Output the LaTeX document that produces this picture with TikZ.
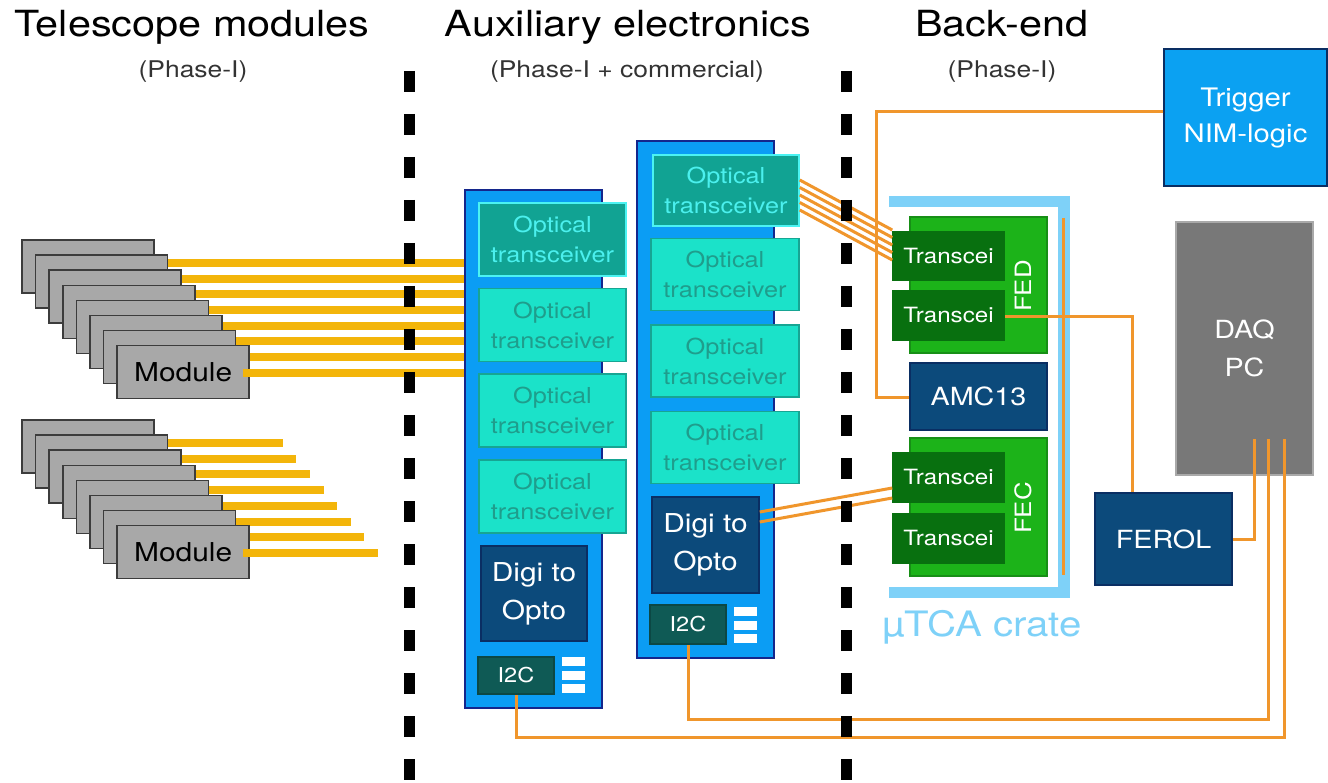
\documentclass[tikz,border=0pt]{standalone}
\usepackage{fontspec}
\setmainfont[FakeStretch=1.15]{TeX Gyre Heros}
\usetikzlibrary{calc}

\definecolor{modgray}{HTML}{A8A8A8}
\definecolor{modedge}{HTML}{3C3C3C}
\definecolor{fibrecol}{HTML}{F3B50A}
\definecolor{boardblue}{HTML}{0B9DF4}
\definecolor{boardedge}{HTML}{14268C}
\definecolor{trxfill}{HTML}{1BE2C9}
\definecolor{trxedge}{HTML}{17A593}
\definecolor{trxtext}{HTML}{1F9D8C}
\definecolor{hlfill}{HTML}{11A393}
\definecolor{hledge}{HTML}{4BF3F2}
\definecolor{hltext}{HTML}{4BF0EE}
\definecolor{navyfill}{HTML}{0C4A7B}
\definecolor{navyedge}{HTML}{0A2E63}
\definecolor{i2cfill}{HTML}{0F5A55}
\definecolor{cardgreen}{HTML}{1CB319}
\definecolor{cardedge}{HTML}{178F16}
\definecolor{trgreen}{HTML}{08700F}
\definecolor{cratecol}{HTML}{7ED1F8}
\definecolor{wirecol}{HTML}{F0962C}
\definecolor{daqgray}{HTML}{787878}
\definecolor{daqedge}{HTML}{A9A9A9}
\definecolor{trigblue}{HTML}{0BA1F2}

\begin{document}
\begin{tikzpicture}[x=1pt,y=-1pt,
  box/.style={draw, inner sep=0pt, align=center, line width=1.5pt},
  title/.style={font=\fontsize{36}{40}\selectfont, anchor=base},
  subtitle/.style={font=\fontsize{23}{26}\selectfont, anchor=base, text=black!80},
  module/.style={box, fill=modgray, draw=modedge, minimum width=132pt, minimum height=53pt},
  modtext/.style={font=\fontsize{26}{28}\selectfont, text=black},
  fibre/.style={line width=8pt, draw=fibrecol},
  board/.style={box, fill=boardblue, draw=boardedge, line width=2pt},
  trx/.style={box, fill=trxfill, draw=trxedge, text=trxtext,
    minimum height=73pt, font=\fontsize{22}{30}\selectfont},
  trxhl/.style={trx, fill=hlfill, draw=hledge, text=hltext},
  digi/.style={box, fill=navyfill, draw=navyedge, text=white,
    font=\fontsize{26}{38}\selectfont},
  i2c/.style={box, fill=i2cfill, draw=i2cfill!80!black, text=white,
    minimum width=76pt, font=\fontsize{20.5}{22}\selectfont},
  bar/.style={fill=white, inner sep=0pt, minimum width=23pt, minimum height=9pt},
  card/.style={box, fill=cardgreen, draw=cardedge, minimum width=137pt},
  cardlabel/.style={rotate=90, text=white, font=\fontsize{22.5}{24}\selectfont},
  tcvr/.style={box, fill=trgreen, draw=trgreen, text=white,
    minimum width=111pt, minimum height=48pt, font=\fontsize{21}{24}\selectfont},
  navybox/.style={box, fill=navyfill, draw=navyedge, text=white,
    font=\fontsize{25}{38}\selectfont},
  wire/.style={draw=wirecol, line width=3pt},
  thinwire/.style={draw=wirecol, line width=3pt},
  divider/.style={draw=black, line width=10.5pt, dash pattern=on 21pt off 22pt}]

\useasboundingbox[fill=white] (0,0) rectangle (1328,783);

% ---------- section headings ----------
\node[title] (h1) at (192,37) {Telescope modules};
\node[subtitle] (s1) at (193,78) {(Phase-I)};
\node[title] (h2) at (628,37) {Auxiliary electronics};
\node[subtitle] (s2) at (627,78) {(Phase-I + commercial)};
\node[title] (h3) at (1002,37) {Back-end};
\node[subtitle] (s3) at (1002,78) {(Phase-I)};

% ---------- auxiliary boards ----------
\node[board, minimum width=137pt, minimum height=518pt] (boardA) at (533.5,449) {};
\node[trxhl, minimum width=147pt] (trxA1) at (552.5,239.5) {Optical\\transceiver};
\node[trx,   minimum width=147pt] (trxA2) at (552.5,325)   {Optical\\transceiver};
\node[trx,   minimum width=147pt] (trxA3) at (552.5,410.5) {Optical\\transceiver};
\node[trx,   minimum width=147pt] (trxA4) at (552.5,496.5) {Optical\\transceiver};
\node[digi, minimum width=106pt, minimum height=95pt] (digiA) at (534,593.5) {Digi to\\Opto};
\node[i2c, minimum height=37pt] (i2cA) at (516,675.5) {I2C};
\node[bar] (barA1) at (573.5,661.5) {};
\node[bar] (barA2) at (573.5,675) {};
\node[bar] (barA3) at (573.5,688.5) {};

\node[board, minimum width=137pt, minimum height=517pt] (boardB) at (705.5,399.5) {};
\node[trxhl, minimum width=146pt, minimum height=71pt] (trxB1) at (726,190.5) {Optical\\transceiver};
\node[trx,   minimum width=148pt, minimum height=72pt] (trxB2) at (725,274.5) {Optical\\transceiver};
\node[trx,   minimum width=148pt, minimum height=72pt] (trxB3) at (725,361)   {Optical\\transceiver};
\node[trx,   minimum width=148pt, minimum height=72pt] (trxB4) at (725,447.5) {Optical\\transceiver};
\node[digi, minimum width=107pt, minimum height=96pt] (digiB) at (705.5,545) {Digi to\\Opto};
\node[i2c, minimum height=39pt] (i2cB) at (688,624.5) {I2C};
\node[bar] (barB1) at (745.5,611.5) {};
\node[bar] (barB2) at (745.5,625) {};
\node[bar] (barB3) at (745.5,638.5) {};

% ---------- telescope module stacks with their fibres ----------
\foreach \k in {0,...,7}{
  \pgfmathsetmacro\cx{88+13.6*\k}
  \pgfmathsetmacro\cy{266.5+15.1*\k}
  \pgfmathsetmacro\ys{3.5-0.6*\k}
  \node[module] (m\k) at (\cx,\cy) {};
  \draw[fibre] ([xshift=-7pt,yshift=\ys pt]m\k.east) coordinate (fs) -- (fs -| boardA.west);
}
\node[modtext] (ml1) at (m7) {Module};

\foreach \k in {0,...,7}{
  \pgfmathsetmacro\cx{88+13.6*\k}
  \pgfmathsetmacro\cy{446.5+15.1*\k}
  \pgfmathsetmacro\ys{3.5-0.6*\k}
  \node[module] (n\k) at (\cx,\cy) {};
  \draw[fibre] ([xshift=-7pt,yshift=\ys pt]n\k.east) -- ++(135,0);
}
\node[modtext] (ml2) at (n7) {Module};

% ---------- uTCA crate ----------
\draw[cratecol, line width=11.5pt] (889,201.5) -| (1064,592.5) -- (889,592.5);
\draw[wire] (1063,218) -- (1063,575);
\node[text=cratecol, font=\fontsize{35}{37}\selectfont] (cratelbl) at (982,627) {µTCA crate};

\node[card, minimum height=136pt] (fed) at (978.5,285) {};
\node[tcvr] (fedA) at (948.5,256) {Transcei};
\node[tcvr, minimum height=49pt] (fedB) at (948.5,315.5) {Transcei};
\node[cardlabel] (fedl) at (1023,286) {FED};

\node[navybox, minimum width=137pt, minimum height=67pt] (amc) at (978.5,396.5) {AMC13};

\node[card, minimum height=138pt] (fec) at (978.5,507) {};
\node[tcvr, minimum height=49pt] (fecA) at (948.5,477.5) {Transcei};
\node[tcvr, minimum height=49pt] (fecB) at (948.5,538.5) {Transcei};
\node[cardlabel] (fecl) at (1023,508) {FEC};

% ---------- readout and trigger ----------
\node[navybox, minimum width=137pt, minimum height=92pt] (ferol) at (1163.5,539) {FEROL};
\node[box, fill=daqgray, draw=daqedge, text=white, line width=2pt,
  minimum width=137pt, minimum height=253pt,
  font=\fontsize{25}{38}\selectfont] (daq) at (1244.5,348.5) {DAQ\\PC};
\node[box, fill=trigblue, draw=navyedge, text=white,
  minimum width=163pt, minimum height=137pt,
  font=\fontsize{25.5}{36}\selectfont] (trig) at (1245.5,117.5) {Trigger\\NIM-logic};

% ---------- optical links ----------
\foreach \i in {0,...,4}{
  \pgfmathsetmacro\ya{10.5-7.5*\i}
  \pgfmathsetmacro\yb{26-7.5*\i}
  \draw[thinwire] ([yshift=\ya pt]trxB1.east) -- ([yshift=\yb pt]fedA.west);
}
\draw[thinwire] ([yshift=33pt]digiB.east) -- ([yshift=-10.5pt]fecA.west);
\draw[thinwire] ([yshift=23pt]digiB.east) -- ([yshift=-20.5pt]fecA.west);

% ---------- electrical connections ----------
\draw[wire] ([yshift=5.5pt]trig.west) -| ([xshift=-33pt,yshift=-1.5pt]amc.west) -- ([yshift=-1.5pt]amc.west);
\draw[wire] ([yshift=-1.5pt]fedB.east) -| ([xshift=-31.5pt]ferol.north);
\draw[wire] (ferol.east) -| ([xshift=9.5pt,yshift=37pt]daq.south);
\draw[wire] (i2cB.south) -- ++(0,75) -| ([xshift=23.5pt,yshift=37pt]daq.south);
\draw[wire] (i2cA.south) -- ++(0,43) -| ([xshift=39.5pt,yshift=37pt]daq.south);

% ---------- section dividers ----------
\draw[divider] (409.5,71) -- (409.5,790);
\draw[divider] (846.5,71) -- (846.5,790);
\end{tikzpicture}
\end{document}
